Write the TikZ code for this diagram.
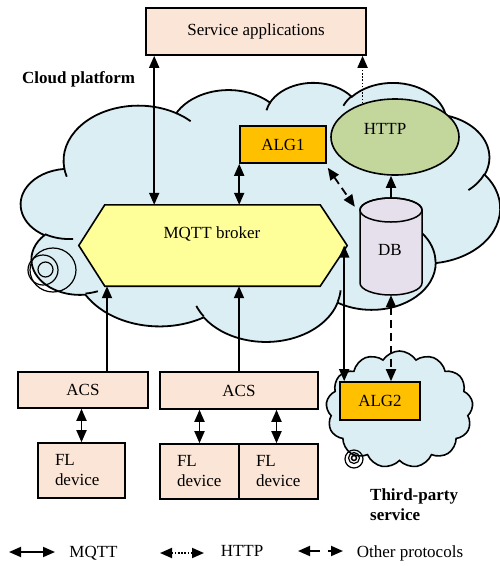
\documentclass[tikz,border=0pt]{standalone}
\usepackage{fontspec}
\setmainfont{Liberation Serif}
\usetikzlibrary{arrows.meta,shapes.geometric,shapes.symbols,calc}
\definecolor{peach}{HTML}{FBE5D6}
\definecolor{algc}{HTML}{FFC000}
\definecolor{httpc}{HTML}{C3D69B}
\definecolor{mqttc}{HTML}{FFFF99}
\definecolor{dbc}{HTML}{E5E0EC}
\definecolor{cloudc}{HTML}{DAEEF3}
\newcommand\fs{\fontsize{17}{20}\selectfont}
\newcommand\ooMove[2]{%
  \pgfmathsetmacro\omx{\ooX+#1*\ooSx}%
  \pgfmathsetmacro\omy{\ooY+#2*\ooSy}%
  \pgfpathmoveto{\pgfpoint{\omx pt}{\omy pt}}}
\newcommand\ooArc[4]{%
  \pgfmathsetmacro\oaA{#3}%
  \pgfmathsetmacro\oaB{#3+#4}%
  \pgfmathsetmacro\oaTa{atan2(#1*sin(\oaA),#2*cos(\oaA))}%
  \pgfmathsetmacro\oaTb{atan2(#1*sin(\oaB),#2*cos(\oaB))}%
  \pgfmathsetmacro\oaD{mod((\oaTb)-(\oaTa)+720,360)}%
  \ifdim #4pt<0pt \pgfmathsetmacro\oaD{(\oaD)-360}\fi
  \pgfmathsetmacro\oaE{(\oaTa)+(\oaD)}%
  \pgfmathsetmacro\oaRx{#1*\ooSx}%
  \pgfmathsetmacro\oaRy{#2*\ooSy}%
  \pgfpatharc{\oaTa}{\oaE}{\oaRx pt and \oaRy pt}}
\newcommand\ooCloudPath{%
 \ooMove{39.00}{143.70}%
 \ooArc{67.53}{91.90}{-190.4875}{123.7805}%
 \ooArc{53.33}{72.67}{-144.1024}{89.9452}%
 \ooArc{43.65}{59.45}{-145.8079}{99.7230}%
 \ooArc{48.57}{65.95}{-130.9861}{117.2417}%
 \ooArc{53.33}{72.73}{-78.7089}{109.0269}%
 \ooArc{67.75}{92.20}{-46.2673}{130.2690}%
 \ooArc{57.85}{78.67}{0.6250}{114.0333}%
 \ooArc{67.52}{92.15}{22.4516}{115.1726}%
 \ooArc{77.20}{105.43}{66.2426}{75.7110}%
 \ooArc{43.60}{59.18}{-274.9421}{146.7356}%
 \ooArc{43.45}{59.45}{-246.8285}{152.5189}%
 \pgfpathclose}
\newcommand\ooCloudInner{%
 \ooMove{46.93}{261.77}\ooArc{43.45}{59.45}{86.7420}{26.4295}%
 \ooMove{69.28}{348.99}\ooArc{43.60}{59.18}{73.6105}{11.4475}%
 \ooMove{164.78}{390.90}\ooArc{67.52}{92.15}{137.6242}{14.0811}%
 \ooMove{288.27}{347.51}\ooArc{67.52}{92.15}{6.4533}{15.9984}%
 \ooMove{341.29}{229.54}\ooArc{57.85}{78.67}{-70.2924}{70.9174}%
 \ooMove{417.98}{153.54}\ooArc{53.33}{72.73}{30.3180}{27.7515}%
 \ooMove{383.24}{54.26}\ooArc{48.57}{65.95}{-13.7443}{14.8589}%
 \ooMove{290.78}{39.52}\ooArc{48.57}{65.95}{-149.1815}{18.1954}%
 \ooMove{221.41}{47.20}\ooArc{43.65}{59.45}{-163.4943}{17.6864}%
 \ooMove{140.00}{51.92}\ooArc{67.53}{91.90}{-66.7070}{12.3194}%
 \ooMove{41.27}{157.89}\ooArc{67.53}{91.90}{157.6544}{11.8582}}
\begin{document}
\begin{tikzpicture}[x=1pt,y=1pt,yscale=-1,
  >={Triangle[length=12pt,width=10pt]},
  every node/.style={font=\fs, inner sep=0pt},
  box/.style={draw, line width=1.6pt},
  mq/.style={line width=1.8pt,<->},
  one/.style={line width=1.8pt,->},
  ht/.style={line width=1.8pt,->,dash pattern=on 1.6pt off 1.6pt},
  htl/.style={line width=1.8pt,<->,dash pattern=on 1.6pt off 1.6pt},
  op/.style={line width=1.8pt,<->,dash pattern=on 8pt off 5pt},
  thin/.style={line width=1.2pt}]
\useasboundingbox (0,0) rectangle (499,566);
% big cloud
\begin{pgfscope}
 \pgfsetlinewidth{1.8pt}\pgfsetfillcolor{cloudc}\pgfsetstrokecolor{black}
 \def\ooX{21}\def\ooY{82}\pgfmathsetmacro\ooSx{479/432}\pgfmathsetmacro\ooSy{259/432}
 \ooCloudPath\pgfusepath{fill,stroke}
 \ooCloudInner\pgfusepath{stroke}
\end{pgfscope}
\draw[thin] (53,270) ellipse[x radius=23, y radius=22];
\draw[thin] (43,270) circle[radius=15];
\draw[thin] (45.5,269.5) circle[radius=7.5];
% third-party cloud
\node[cloud, cloud puffs=13, cloud puff arc=115, aspect=1.25, draw, line width=1.6pt,
      fill=cloudc, minimum width=147pt, minimum height=117pt] (tpc) at (399.5,409.5) {};
\draw[thin] (354,459) circle[radius=9];
\draw[thin] (354,458) circle[radius=5.5];
\draw[line width=1.5pt] (354,458) circle[radius=2.5];
% nodes
\node[box, fill=peach, minimum width=220, minimum height=47] (svc) at (256,31.5) {Service applications};
\node[anchor=west, font=\fs\bfseries] (cp) at (22,79) {Cloud platform};
\node[box, fill=algc, minimum width=86, minimum height=37] (alg1) at (283,144.5) {ALG1};
\node[ellipse, box, fill=httpc, minimum width=128, minimum height=76] (http) at (395,137) {};
\node (httpt) at (385,128.5) {HTTP};
\node[minimum width=268, minimum height=81] (mqtt) at (213,245.5) {};
\draw[box, fill=mqttc] (mqtt.west) -- ([xshift=26]mqtt.north west) -- ([xshift=-27]mqtt.north east)
  -- (mqtt.east) -- ([xshift=-27]mqtt.south east) -- ([xshift=26]mqtt.south west) -- cycle;
\node (mqttt) at (212,233.5) {MQTT broker};
\node[minimum width=62, minimum height=97] (db) at (391,246.5) {};
\path[fill=dbc, draw, line width=1.5pt] (360,210) -- (360,283)
  arc[start angle=180, end angle=0, x radius=31, y radius=12] -- (422,210)
  arc[start angle=0, end angle=-180, x radius=31, y radius=12] -- cycle;
\draw[line width=1.5pt] (391,210) ellipse[x radius=31, y radius=12];
\node (dbt) at (390,250) {DB};
\node[box, fill=algc, minimum width=80, minimum height=38] (alg2) at (380,401) {ALG2};
\node[box, fill=peach, minimum width=130, minimum height=36] (acs1) at (83,390) {ACS};
\node[box, fill=peach, minimum width=158, minimum height=37] (acs2) at (239,390.5) {ACS};
\node[box, fill=peach, minimum width=87, minimum height=55, text width=53, align=left] (fl1) at (81.5,470.5) {FL\\device};
\node[box, fill=peach, minimum width=79, minimum height=55, text width=45, align=left] (fl2) at (199.5,471.5) {FL\\device};
\node[box, fill=peach, minimum width=79, minimum height=55, text width=45, align=left] (fl3) at (278.5,471.5) {FL\\device};
\node[anchor=west, align=left, font=\fs\bfseries] (tps) at (370,505) {Third-party\\service};
% connectors
\draw[mq] ([xshift=9]svc.south west) -- ([xshift=9]svc.south west |- mqtt.north);
\draw[mq] (alg1.south west) -- (alg1.south west |- mqtt.north);
\draw[op] ($(alg1.south east)+(1,4)$) -- ($(db.north west)+(-5,9)$);
\draw[one] (db.north) -- (db.north |- http.south);
\draw[ht] (http.134) -- (http.134 |- svc.south);
\draw[mq] ([xshift=5]alg2.north west |- mqtt.east) -- ([xshift=5]alg2.north west);
\draw[op] (db.south) -- (db.south |- alg2.north);
\draw[one] ([xshift=24]acs1.north) -- ([xshift=24]acs1.north |- mqtt.south);
\draw[one] (acs2.north) -- (acs2.north |- mqtt.south);
\draw[mq] (fl1.north) -- (fl1.north |- acs1.south);
\draw[mq] (fl2.north) -- (fl2.north |- acs2.south);
\draw[mq] ([xshift=-2]fl3.north) -- ([xshift=-2]fl3.north |- acs2.south);
% legend
\coordinate (m1) at (9,552); \coordinate (m2) at (55,552);
\draw[mq] (m1) -- (m2);
\node (mqttl) at (93.5,553) {MQTT};
\coordinate (h1) at (160,553); \coordinate (h2) at (204,553);
\draw[htl] (h1) -- (h2);
\node (httpl) at (242,551) {HTTP};
\coordinate (o1) at (298,551); \coordinate (o2) at (343,551);
\draw[op, dash pattern=on 10pt off 8pt] (o1) -- (o2);
\node (opl) at (410,553.5) {Other protocols};
\end{tikzpicture}
\end{document}
